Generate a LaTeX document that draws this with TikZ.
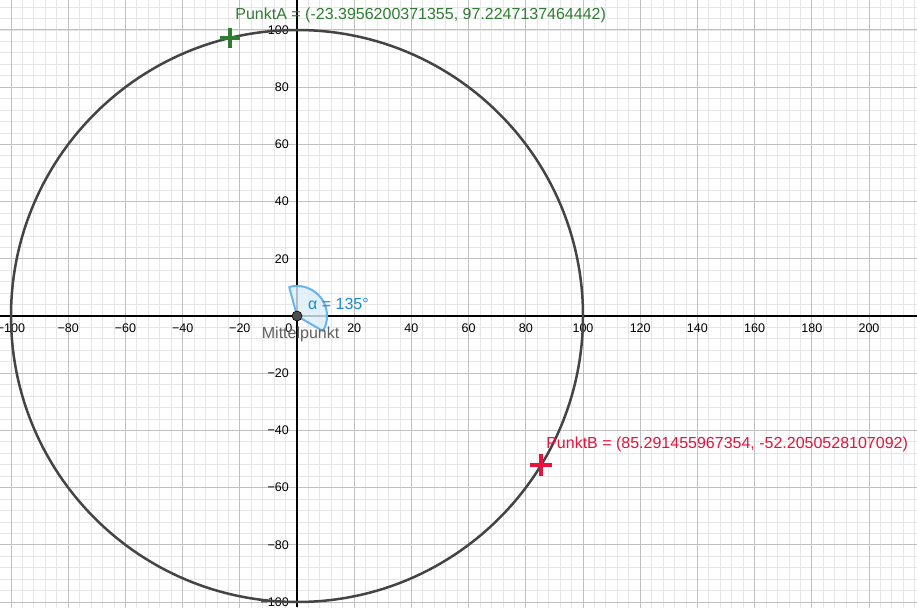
\documentclass[tikz,border=0pt]{standalone}
\usepackage{fontspec}
\setmainfont{Liberation Sans}
\definecolor{minorg}{HTML}{E6E6E6}
\definecolor{majorg}{HTML}{C0C0C0}
\definecolor{circg}{HTML}{444444}
\definecolor{ptgreen}{HTML}{2E7D32}
\definecolor{ptred}{HTML}{E8123C}
\definecolor{angfill}{HTML}{DCEEFB}
\definecolor{angline}{HTML}{66B5EE}
\definecolor{angtext}{HTML}{1A8AD4}
\definecolor{midtext}{HTML}{606060}
\definecolor{midpt}{HTML}{4D4D4D}
\tikzset{
  minorgrid/.style={draw=minorg, line width=0.8pt},
  majorgrid/.style={draw=majorg, line width=1pt},
  axisline/.style={draw=black, line width=1.2pt},
  ticklab/.style={inner sep=0pt, font=\fontsize{12.5}{14}\selectfont},
  biglab/.style={inner sep=0pt, font=\fontsize{16}{19}\selectfont, anchor=base west},
  crossmark/.style={line width=4pt},
}
\begin{document}
\begin{tikzpicture}[x=2.86pt,y=2.86pt]
\useasboundingbox (-103.85,-101.75) rectangle (216.78,110.49);
\fill[white] (-103.85,-101.75) rectangle (216.78,110.49);
\begin{scope}
\clip (-103.85,-101.75) rectangle (216.78,110.49);
\draw[minorgrid] (-104,-104) grid[step=4] (220,112);
\draw[majorgrid] (-120,-120) grid[step=20] (220,120);
\end{scope}
% axes
\coordinate (xl) at (-103.85,0);
\coordinate (xr) at (216.78,0);
\coordinate (yb) at (0,-101.75);
\coordinate (yt) at (0,110.49);
\draw[axisline] (xl) -- (xr);
\draw[axisline] (yb) -- (yt);
% tick labels
\foreach \v in {20,40,...,200}
  \node[ticklab, anchor=north] (xp\v) at (\v,-2.6) {\v};
\foreach \v in {20,40,...,100}
  \node[ticklab, anchor=north] (xn\v) at (-\v,-2.6) {−\v};
\foreach \v in {20,40,...,100}
  \node[ticklab, anchor=east] (yp\v) at (-2.8,\v) {\v};
\foreach \v in {20,40,...,100}
  \node[ticklab, anchor=east] (yn\v) at (-2.8,-\v) {−\v};
\node[ticklab, anchor=north east] (zero) at (-1.6,-2.6) {0};
% circle
\draw[circg, line width=2.5pt] (0,0) circle[radius=100];
% angle sector
\filldraw[fill=angfill, fill opacity=0.8, draw=angline, line width=2pt, line join=round]
  (0,0) -- (105:10.5) arc[start angle=105, end angle=-30, radius=10.5] -- cycle;
\node[biglab, text=angtext] (alpha) at (3.85,2.35) {α = 135°};
% center point
\node[circle, fill=midpt, draw=black, line width=0.6pt, minimum size=10pt, inner sep=0pt] (M) at (0,0) {};
\node[biglab, text=midtext] (Mlab) at (-12.35,-7.8) {Mittelpunkt};
% Punkt A
\coordinate (A) at (-23.3956200371355,97.2247137464442);
\draw[crossmark, ptgreen] ([xshift=-10pt]A) -- ([xshift=10pt]A);
\draw[crossmark, ptgreen] ([yshift=-10pt]A) -- ([yshift=10pt]A);
\node[biglab, text=ptgreen] (Alab) at (-21.6,103.5) {PunktA = (-23.3956200371355, 97.2247137464442)};
% Punkt B
\coordinate (B) at (85.291455967354,-52.2050528107092);
\draw[crossmark, ptred] ([xshift=-11pt]B) -- ([xshift=11pt]B);
\draw[crossmark, ptred] ([yshift=-11pt]B) -- ([yshift=11pt]B);
\node[biglab, text=ptred] (Blab) at (87.1,-46.3) {PunktB = (85.291455967354, -52.2050528107092)};
\end{tikzpicture}
\end{document}
